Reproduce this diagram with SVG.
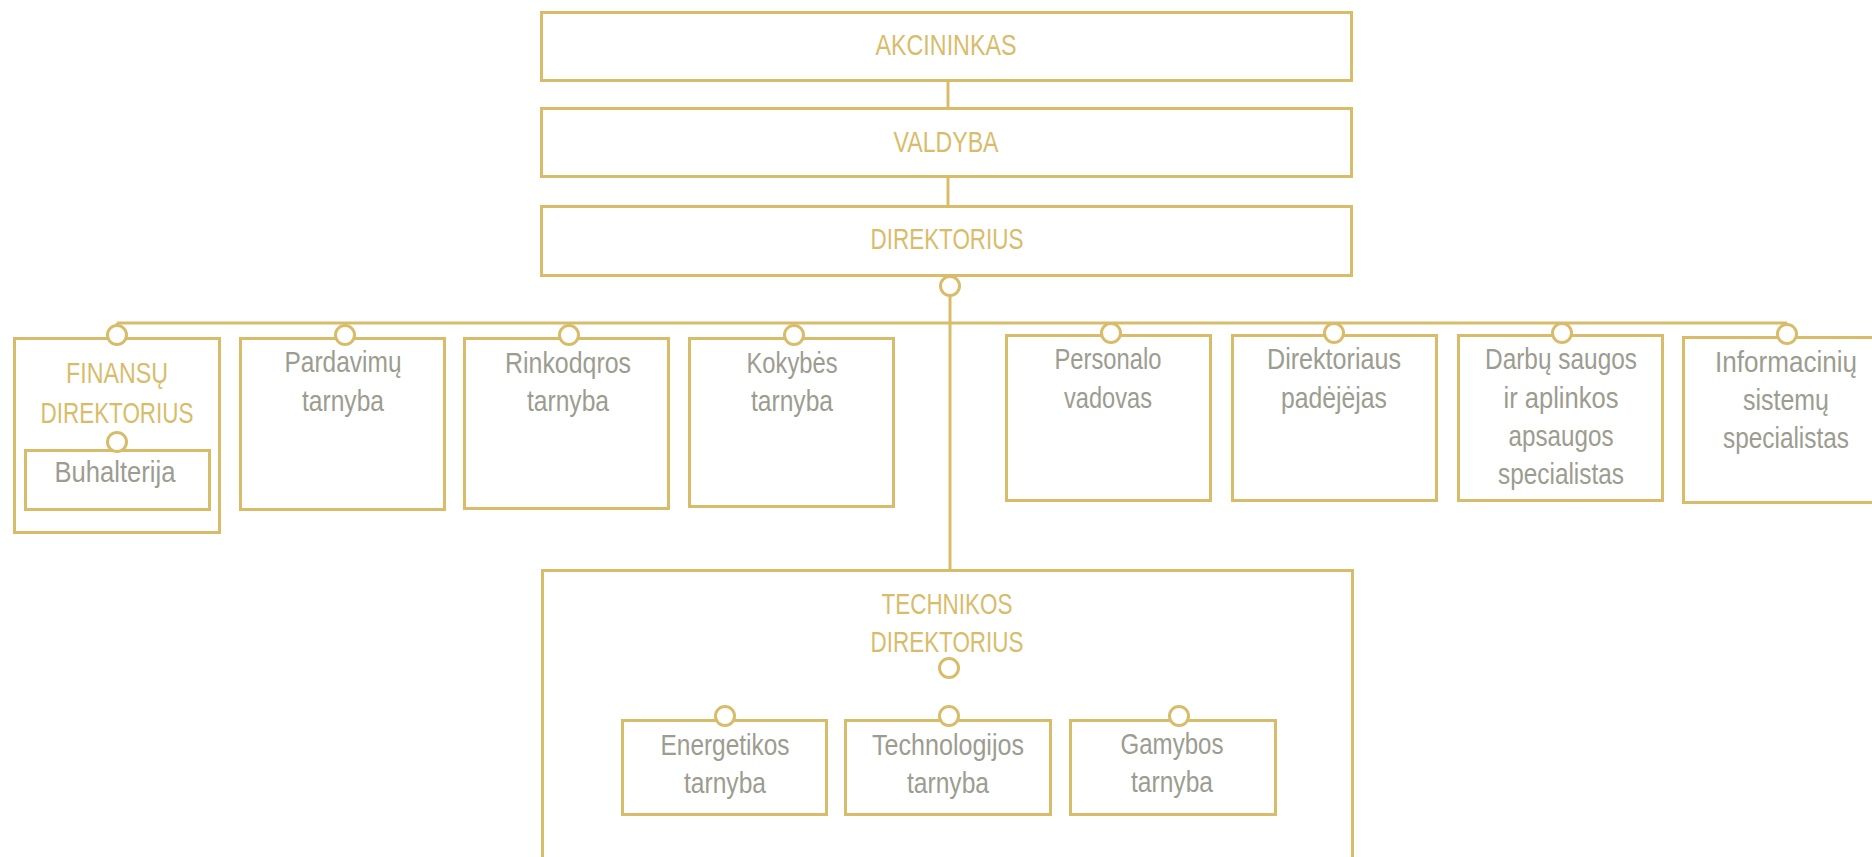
<svg xmlns="http://www.w3.org/2000/svg" width="1872" height="857" viewBox="0 0 1872 857">
<style>
.box{fill:#fff;stroke:#D8BC6A;stroke-width:3}
.ln{fill:none;stroke:#D8BC6A;stroke-width:3}
.dot{fill:#fff;stroke:#D8BC6A;stroke-width:3}
text{font-family:"Liberation Sans",Arial,sans-serif;font-size:30px;text-anchor:middle}
.g{fill:#D8BC6A}
.t{fill:#9C9C90}
</style>
<rect width="1872" height="857" fill="#fff"/>
<g id="connectors">
<line class="ln" x1="948" y1="82" x2="948" y2="107"/>
<line class="ln" x1="948" y1="178" x2="948" y2="205"/>
<line class="ln" x1="950" y1="295" x2="950" y2="569"/>
<line class="ln" x1="117" y1="323" x2="1787" y2="323"/>
<line class="ln" x1="117" y1="323" x2="117" y2="326"/>
<line class="ln" x1="1787" y1="323" x2="1787" y2="326"/>
<line class="ln" x1="949" y1="678" x2="949" y2="706"/>
<line class="ln" x1="725" y1="706" x2="1179" y2="706"/>
</g>
<g id="akcininkas"><rect class="box" x="541.5" y="12.5" width="810" height="68"/><text class="g" x="946" y="55" textLength="141" lengthAdjust="spacingAndGlyphs">AKCININKAS</text></g>
<g id="valdyba"><rect class="box" x="541.5" y="108.5" width="810" height="68"/><text class="g" x="946" y="152" textLength="105" lengthAdjust="spacingAndGlyphs">VALDYBA</text></g>
<g id="direktorius"><rect class="box" x="541.5" y="206.5" width="810" height="69"/><text class="g" x="947" y="249" textLength="153" lengthAdjust="spacingAndGlyphs">DIREKTORIUS</text><circle class="dot" cx="950" cy="286" r="9.5"/></g>
<g id="finansu"><rect class="box" x="14.5" y="338.5" width="205" height="194"/><circle class="dot" cx="117" cy="335" r="9.5"/><text class="g" x="117" y="383" textLength="102" lengthAdjust="spacingAndGlyphs">FINANSŲ</text><text class="g" x="117" y="423" textLength="153" lengthAdjust="spacingAndGlyphs">DIREKTORIUS</text></g>
<g id="buhalterija"><rect class="box" x="25.5" y="450.5" width="184" height="59"/><circle class="dot" cx="117" cy="442" r="9.5"/><text class="t" x="115" y="482" textLength="121" lengthAdjust="spacingAndGlyphs">Buhalterija</text></g>
<g id="pardavimu"><rect class="box" x="240.5" y="338.5" width="204" height="171"/><circle class="dot" cx="345" cy="335" r="9.5"/><text class="t" x="343" y="372" textLength="117" lengthAdjust="spacingAndGlyphs">Pardavimų</text><text class="t" x="343" y="411" textLength="82" lengthAdjust="spacingAndGlyphs">tarnyba</text></g>
<g id="rinkodqros"><rect class="box" x="464.5" y="338.5" width="204" height="170"/><circle class="dot" cx="569" cy="335" r="9.5"/><text class="t" x="568" y="373" textLength="126" lengthAdjust="spacingAndGlyphs">Rinkodqros</text><text class="t" x="568" y="411" textLength="82" lengthAdjust="spacingAndGlyphs">tarnyba</text></g>
<g id="kokybes"><rect class="box" x="689.5" y="338.5" width="204" height="168"/><circle class="dot" cx="794" cy="335" r="9.5"/><text class="t" x="792" y="373" textLength="91" lengthAdjust="spacingAndGlyphs">Kokybės</text><text class="t" x="792" y="411" textLength="82" lengthAdjust="spacingAndGlyphs">tarnyba</text></g>
<g id="personalo"><rect class="box" x="1006.5" y="335.5" width="204" height="165"/><circle class="dot" cx="1111" cy="333" r="9.5"/><text class="t" x="1108" y="369" textLength="107" lengthAdjust="spacingAndGlyphs">Personalo</text><text class="t" x="1108" y="408" textLength="88" lengthAdjust="spacingAndGlyphs">vadovas</text></g>
<g id="padejejas"><rect class="box" x="1232.5" y="335.5" width="204" height="165"/><circle class="dot" cx="1334" cy="333" r="9.5"/><text class="t" x="1334" y="369" textLength="134" lengthAdjust="spacingAndGlyphs">Direktoriaus</text><text class="t" x="1334" y="408" textLength="106" lengthAdjust="spacingAndGlyphs">padėjėjas</text></g>
<g id="darbu"><rect class="box" x="1458.5" y="335.5" width="204" height="165"/><circle class="dot" cx="1562" cy="333" r="9.5"/><text class="t" x="1561" y="369" textLength="152" lengthAdjust="spacingAndGlyphs">Darbų saugos</text><text class="t" x="1561" y="408" textLength="115" lengthAdjust="spacingAndGlyphs">ir aplinkos</text><text class="t" x="1561" y="446" textLength="105" lengthAdjust="spacingAndGlyphs">apsaugos</text><text class="t" x="1561" y="484" textLength="126" lengthAdjust="spacingAndGlyphs">specialistas</text></g>
<g id="informaciniu"><rect class="box" x="1683.5" y="337.5" width="210" height="165"/><circle class="dot" cx="1787" cy="334" r="9.5"/><text class="t" x="1786" y="372" textLength="142" lengthAdjust="spacingAndGlyphs">Informacinių</text><text class="t" x="1786" y="410" textLength="86" lengthAdjust="spacingAndGlyphs">sistemų</text><text class="t" x="1786" y="448" textLength="126" lengthAdjust="spacingAndGlyphs">specialistas</text></g>
<g id="technikos"><rect class="box" x="542.5" y="570.5" width="810" height="300"/><text class="g" x="947" y="614" textLength="131" lengthAdjust="spacingAndGlyphs">TECHNIKOS</text><text class="g" x="947" y="652" textLength="153" lengthAdjust="spacingAndGlyphs">DIREKTORIUS</text><circle class="dot" cx="949" cy="668" r="9.5"/></g>
<g id="energetikos"><rect class="box" x="622.5" y="720.5" width="204" height="94"/><circle class="dot" cx="725" cy="716" r="9.5"/><text class="t" x="725" y="755" textLength="129" lengthAdjust="spacingAndGlyphs">Energetikos</text><text class="t" x="725" y="793" textLength="82" lengthAdjust="spacingAndGlyphs">tarnyba</text></g>
<g id="technologijos"><rect class="box" x="845.5" y="720.5" width="205" height="94"/><circle class="dot" cx="949" cy="716" r="9.5"/><text class="t" x="948" y="755" textLength="152" lengthAdjust="spacingAndGlyphs">Technologijos</text><text class="t" x="948" y="793" textLength="82" lengthAdjust="spacingAndGlyphs">tarnyba</text></g>
<g id="gamybos"><rect class="box" x="1070.5" y="720.5" width="205" height="94"/><circle class="dot" cx="1179" cy="716" r="9.5"/><text class="t" x="1172" y="754" textLength="103" lengthAdjust="spacingAndGlyphs">Gamybos</text><text class="t" x="1172" y="792" textLength="82" lengthAdjust="spacingAndGlyphs">tarnyba</text></g>
</svg>
